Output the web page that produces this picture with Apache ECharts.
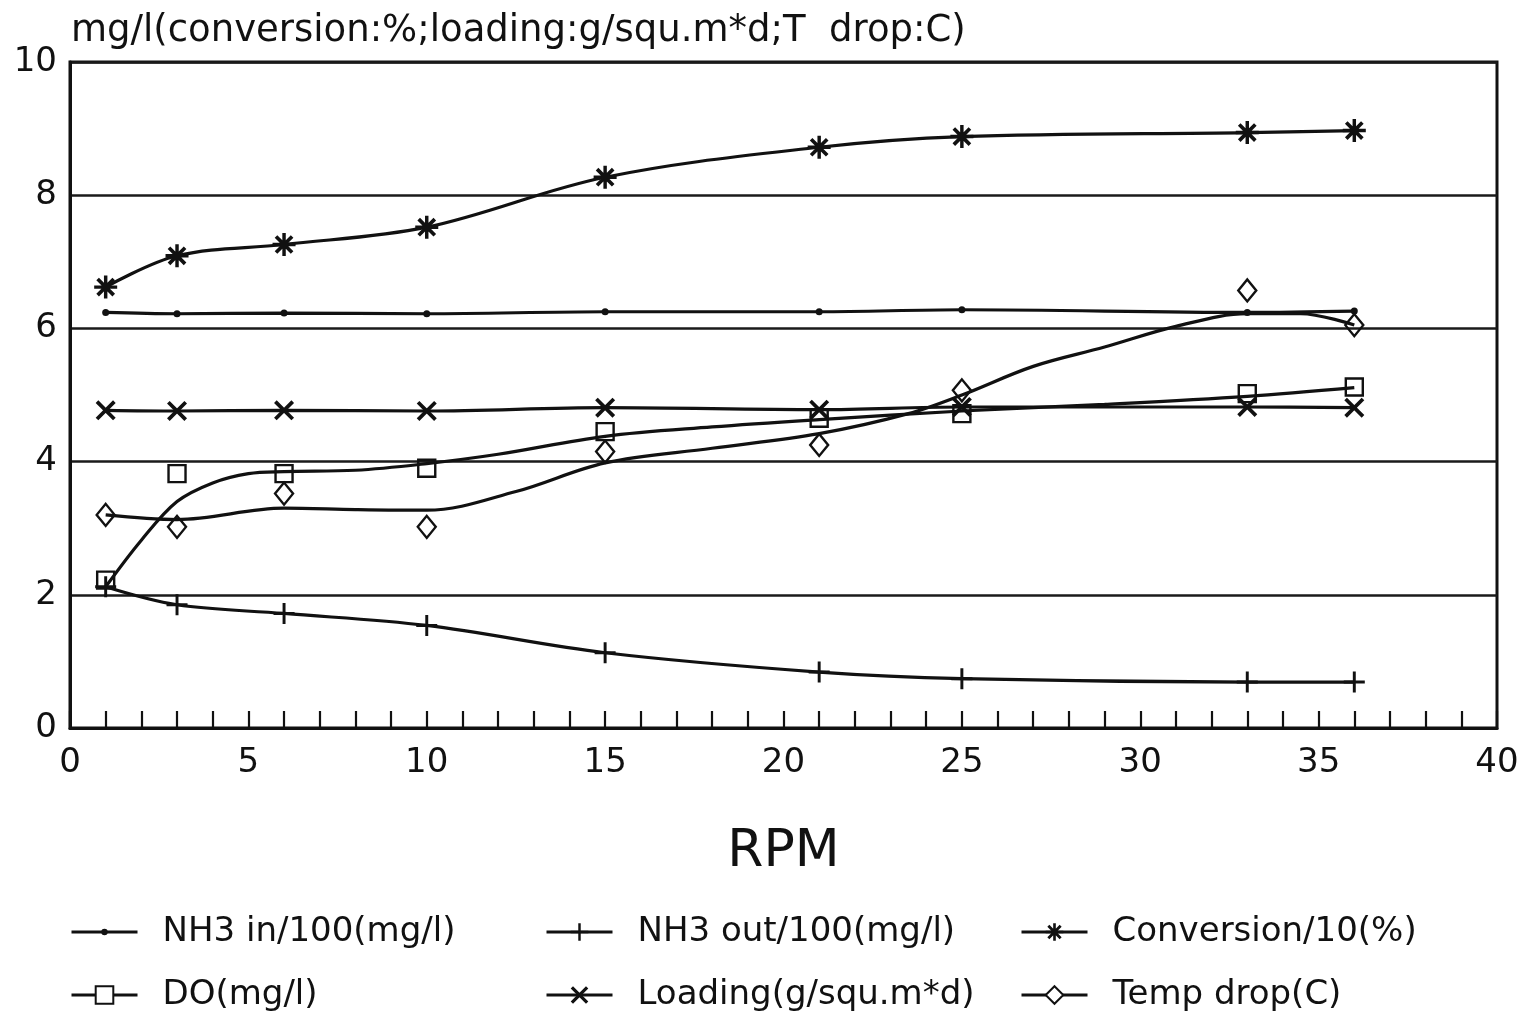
<!DOCTYPE html>
<html>
<head>
<meta charset="utf-8">
<title>RPM</title>
<script src="https://cdn.jsdelivr.net/npm/echarts@6/dist/echarts.min.js"></script>
<style>
    html, body { margin: 0; padding: 0; background: #fff; }
    #container { width: 1526px; height: 1015px; }
</style>
</head>
<body>
<div id="container"></div>
<script>
var rpm = [1, 3, 6, 10, 15, 21, 25, 33, 36];
var nh3In = [6.24, 6.22, 6.23, 6.22, 6.25, 6.25, 6.28, 6.24, 6.26];
var nh3Out = [2.12, 1.85, 1.72, 1.54, 1.13, 0.84, 0.74, 0.69, 0.69];
var conversion = [6.62, 7.09, 7.26, 7.52, 8.27, 8.72, 8.88, 8.94, 8.97];
var dissolvedO2 = [2.22, 3.82, 3.82, 3.90, 4.45, 4.65, 4.72, 5.02, 5.12];
var loading = [4.77, 4.76, 4.77, 4.76, 4.81, 4.78, 4.82, 4.82, 4.81];
var tempDrop = [3.20, 3.02, 3.52, 3.02, 4.15, 4.25, 5.07, 6.57, 6.05];

// fitted curves (they don't go through the DO / temp points)
var doFitRpm = [1, 2, 3, 4, 5, 6, 8, 10, 12, 15, 18, 21, 25, 29, 33, 36];
var doFit = [2.12, 2.82, 3.40, 3.68, 3.82, 3.85, 3.87, 3.97, 4.11, 4.38, 4.52, 4.63, 4.76, 4.86, 4.98, 5.11];
var tempFitRpm = [1, 3, 6, 8, 10, 12.5, 15, 18, 21, 23.5, 25, 27, 29, 31, 33, 34.5, 36];
var tempFit = [3.20, 3.13, 3.30, 3.28, 3.27, 3.55, 3.98, 4.20, 4.42, 4.72, 5.00, 5.43, 5.72, 6.03, 6.22, 6.22, 6.05];

var xTicks = [0, 5, 10, 15, 20, 25, 30, 35, 40];
var yTicks = [0, 2, 4, 6, 8, 10];

var seriesNames = ['NH3 in/100(mg/l)', 'NH3 out/100(mg/l)', 'Conversion/10(%)',
    'DO(mg/l)', 'Loading(g/squ.m*d)', 'Temp drop(C)'];

(() => {
    var font = 'DejaVu Sans';
    var ink = '#111';

    var plusPath = 'path://M8.6,0 H11.4 V20 H8.6 Z M0,8.6 H20 V11.4 H0 Z';
    var crossPath = 'path://M4.06,1.94 L18.06,15.94 L15.94,18.06 L1.94,4.06 Z M15.94,1.94 L18.06,4.06 L4.06,18.06 L1.94,15.94 Z';
    var starPath = 'path://M8.5,0 H11.5 V20 H8.5 Z M0,8.5 H20 V11.5 H0 Z ' +
        'M4.13,1.87 L18.13,15.87 L15.87,18.13 L1.87,4.13 Z M15.87,1.87 L18.13,4.13 L4.13,18.13 L1.87,15.87 Z';
    var boxPath = 'path://M0,0 H10 V10 H0 Z';
    var diamondPath = 'path://M5,0 L10,6 L5,12 L0,6 Z';

    function pairs(xs, ys) {
        return xs.map(function (x, i) { return [x, ys[i]]; });
    }

    function curve(name, data, symbol, size) {
        return {
            name: name,
            type: 'line',
            smooth: 0.35,
            data: data,
            symbol: symbol,
            symbolSize: size,
            showSymbol: true,
            lineStyle: { color: ink, width: 3.2 },
            itemStyle: { color: ink },
            z: 3
        };
    }

    function legendAt(name, left, top, itemHeight) {
        return {
            data: [name],
            left: left,
            top: top,
            padding: 0,
            itemWidth: 66,
            itemHeight: itemHeight,
            selectedMode: false,
            lineStyle: { width: 3 },
            textStyle: { fontFamily: font, fontSize: 34, color: ink, padding: [0, 0, 0, 20] }
        };
    }

    var doLine = curve(seriesNames[3], pairs(doFitRpm, doFit), 'emptyRect', 16);
    doLine.showSymbol = false;
    var tempLine = curve(seriesNames[5], pairs(tempFitRpm, tempFit), 'emptyDiamond', 16);
    tempLine.showSymbol = false;

    var dom = document.getElementById('container');
    var myChart = echarts.init(dom, null, { renderer: 'canvas' });

    var option = {
        backgroundColor: '#fff',
        animation: false,
        title: {
            text: 'mg/l(conversion:%;loading:g/squ.m*d;T  drop:C)',
            left: 66,
            top: 8,
            textStyle: { fontFamily: font, fontSize: 37, fontWeight: 'normal', color: ink }
        },
        legend: [
            legendAt(seriesNames[0], 70, 915, 8),
            legendAt(seriesNames[3], 70, 978, 22),
            legendAt(seriesNames[1], 545, 915, 22),
            legendAt(seriesNames[4], 545, 978, 22),
            legendAt(seriesNames[2], 1020, 915, 22),
            legendAt(seriesNames[5], 1020, 978, 22)
        ],
        grid: {
            left: 70,
            right: 29,
            top: 62,
            bottom: 287,
            show: true,
            borderColor: ink,
            borderWidth: 3
        },
        xAxis: {
            type: 'value',
            min: xTicks[0],
            max: xTicks[xTicks.length - 1],
            interval: xTicks[1] - xTicks[0],
            name: 'RPM',
            nameLocation: 'middle',
            nameGap: 98,
            nameTextStyle: { fontFamily: font, fontSize: 52, color: ink },
            axisLine: { lineStyle: { color: ink, width: 3 } },
            axisTick: { show: true, inside: true, length: 17, lineStyle: { color: ink, width: 2.2 } },
            minorTick: { show: true, splitNumber: 5, length: 17, lineStyle: { color: ink, width: 2.2 } },
            splitLine: { show: false },
            axisLabel: { fontFamily: font, fontSize: 34, color: ink, margin: 18 }
        },
        yAxis: {
            type: 'value',
            min: yTicks[0],
            max: yTicks[yTicks.length - 1],
            interval: yTicks[1] - yTicks[0],
            axisLine: { show: true, lineStyle: { color: ink, width: 3 } },
            axisTick: { show: false },
            splitLine: { show: true, lineStyle: { color: '#1a1a1a', width: 2.5 } },
            axisLabel: { fontFamily: font, fontSize: 34, color: ink, margin: 13 }
        },
        series: [
            curve(seriesNames[0], pairs(rpm, nh3In), 'circle', 7),
            curve(seriesNames[1], pairs(rpm, nh3Out), plusPath, 21),
            curve(seriesNames[2], pairs(rpm, conversion), starPath, 23),
            doLine,
            curve(seriesNames[4], pairs(rpm, loading), crossPath, 20),
            tempLine,
            {
                name: seriesNames[3],
                type: 'scatter',
                data: pairs(rpm, dissolvedO2),
                symbol: boxPath,
                symbolSize: 17,
                itemStyle: { color: 'transparent', borderColor: ink, borderWidth: 2.4, opacity: 1 },
                z: 4
            },
            {
                name: seriesNames[5],
                type: 'scatter',
                data: pairs(rpm, tempDrop),
                symbol: diamondPath,
                symbolSize: [18, 22],
                itemStyle: { color: 'transparent', borderColor: ink, borderWidth: 2.4, opacity: 1 },
                z: 4
            }
        ]
    };

    if (option && typeof option === 'object') {
        myChart.setOption(option, true);
    }
})();
</script>
</body>
</html>
